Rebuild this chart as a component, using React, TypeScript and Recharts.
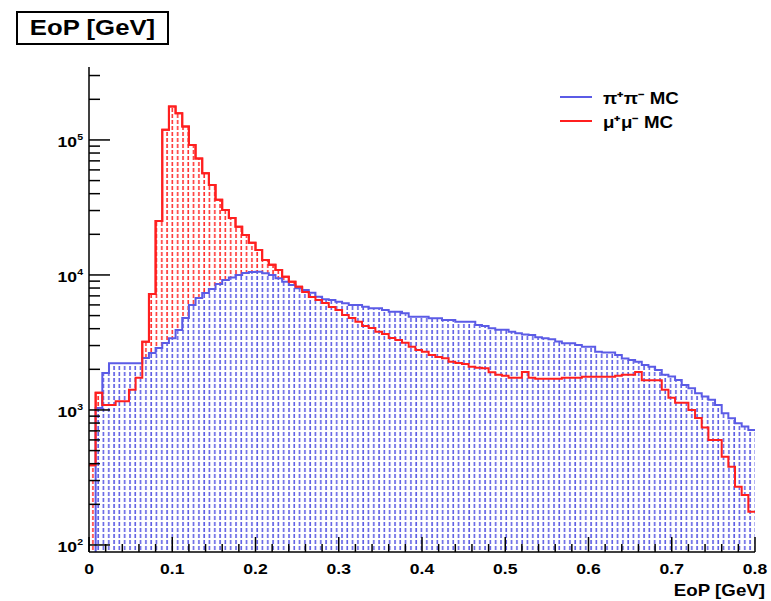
import React from 'react';
import { ComposedChart, Area, Line, XAxis, YAxis } from 'recharts';

// Histogram binning: 100 bins of 0.008 GeV over [0, 0.8]
const binWidth = 0.008;
const binCount = 100;

// pi+ pi- Monte Carlo, entries per bin
const piPiCounts = [
  40, 1035, 1880, 2220, 2220, 2220, 2220, 2220, 2430, 2640,
  2880, 3130, 3400, 3910, 4800, 6000, 6760, 7360, 7880, 8580,
  9180, 9580, 10000, 10350, 10530, 10550, 10280, 10000, 9460, 8920,
  8430, 7960, 7740, 7390, 6910, 6610, 6530, 6340, 6170, 6000,
  6000, 5820, 5660, 5660, 5500, 5350, 5350, 5200, 4910, 4910,
  4910, 4770, 4770, 4640, 4640, 4510, 4510, 4500, 4260, 4190,
  4030, 3920, 3920, 3800, 3700, 3620, 3590, 3460, 3400, 3340,
  3210, 3120, 3120, 3030, 2940, 2940, 2700, 2660, 2660, 2550,
  2410, 2340, 2280, 2150, 2090, 1980, 1820, 1770, 1670, 1530,
  1450, 1330, 1260, 1190, 1090, 946, 869, 797, 753, 711,
];

// mu+ mu- Monte Carlo, entries per bin
const muMuCounts = [
  390, 1340, 1090, 1090, 1160, 1160, 1410, 1730, 3200, 7230,
  25100, 119000, 177000, 158000, 126000, 91800, 73000, 56700, 46400, 36000,
  30300, 26400, 22800, 19800, 17300, 15300, 12900, 11900, 10900, 9710,
  8920, 8190, 7480, 6870, 6530, 6200, 5790, 5500, 5060, 4800,
  4510, 4190, 4040, 3800, 3650, 3410, 3300, 3140, 2940, 2780,
  2700, 2550, 2470, 2420, 2280, 2230, 2190, 2090, 2050, 2040,
  1900, 1820, 1790, 1730, 1730, 1910, 1730, 1700, 1700, 1700,
  1700, 1730, 1730, 1730, 1760, 1760, 1760, 1760, 1760, 1790,
  1820, 1820, 1910, 1660, 1660, 1660, 1410, 1230, 1130, 1130,
  1000, 873, 740, 600, 600, 451, 380, 270, 234, 176,
];

// Axis ticks and labels
const xTickLabels = ['0', '0.1', '0.2', '0.3', '0.4', '0.5', '0.6', '0.7', '0.8'];
const xMinorStep = 0.02;
const yDecadeExponents = [2, 3, 4, 5];
const yDomain = [88.7, 347000];

const seriesNames = ['π⁺π⁻ MC', 'μ⁺μ⁻ MC'];
const axisTitle = 'EoP [GeV]';

const FONT = '"Liberation Sans", Arial, Helvetica, sans-serif';
const SX = 1.17;
const BLUE = '#5b5be6';
const RED = '#ff1f1f';

// One point per bin edge; the last edge repeats the final bin so the step closes at 0.8
const data = Array.from({ length: binCount + 1 }, (_, i) => ({
  x: Number((i * binWidth).toFixed(3)),
  piPi: piPiCounts[Math.min(i, binCount - 1)],
  muMu: muMuCounts[Math.min(i, binCount - 1)],
}));

const xTicks = Array.from({ length: Math.round(0.8 / xMinorStep) + 1 }, (_, i) =>
  Number((i * xMinorStep).toFixed(2))
);

const yTicks: number[] = [];
for (const e of yDecadeExponents) {
  for (let m = 1; m <= 9; m++) {
    const v = m * Math.pow(10, e);
    if (v >= yDomain[0] && v <= yDomain[1]) yTicks.push(v);
  }
}

const XTick = (props: any) => {
  const { x, y, payload } = props;
  const v = payload.value as number;
  const idx = Math.round(v * 10);
  const major = Math.abs(v * 10 - idx) < 1e-6;
  return (
    <g>
      <line x1={x} y1={y} x2={x} y2={y - (major ? 15 : 8)} stroke="#000" strokeWidth={1.5} />
      {major && (
        <g transform={`translate(${x},${y + 22}) scale(${SX},1)`}>
          <text textAnchor="middle" fontSize={15} fontWeight="bold" fontFamily={FONT} fill="#000">
            {xTickLabels[idx]}
          </text>
        </g>
      )}
    </g>
  );
};

const YTick = (props: any) => {
  const { x, y, payload } = props;
  const v = payload.value as number;
  const exp = Math.log10(v);
  const major = Math.abs(exp - Math.round(exp)) < 1e-6;
  return (
    <g>
      <line x1={x} y1={y} x2={x + (major ? 21 : 11)} y2={y} stroke="#000" strokeWidth={1.5} />
      {major && (
        <g transform={`translate(${x - 6},${y + 7}) scale(${SX},1)`}>
          <text textAnchor="end" fontSize={15} fontWeight="bold" fontFamily={FONT} fill="#000">
            10
            <tspan fontSize={9} dy={-7}>
              {yDecadeExponents[yDecadeExponents.indexOf(Math.round(exp))]}
            </tspan>
          </text>
        </g>
      )}
    </g>
  );
};

export default function App() {
  return (
    <div style={{ position: 'absolute', left: 0, top: 0, width: 771, height: 601, background: '#fff' }}>
      <ComposedChart
        width={771}
        height={601}
        data={data}
        margin={{ top: 67, right: 16, bottom: 19, left: 29 }}
      >
        <defs>
          <pattern id="hatchRed" patternUnits="userSpaceOnUse" width={5.3} height={6}>
            <rect x={2} y={0} width={1.6} height={4} fill="#ff3030" />
          </pattern>
          <pattern id="hatchBlue" patternUnits="userSpaceOnUse" width={5.3} height={6}>
            <rect x={0} y={0} width={5.3} height={6} fill="#fff" />
            <rect x={2} y={0} width={1.6} height={4} fill="#5e5ee4" />
          </pattern>
        </defs>
        <XAxis
          dataKey="x"
          type="number"
          domain={[0, 0.8]}
          allowDataOverflow
          ticks={xTicks}
          interval={0}
          tick={<XTick />}
          tickSize={0}
          tickMargin={0}
          tickLine={false}
          height={30}
          axisLine={{ stroke: '#000', strokeWidth: 1.5 }}
        />
        <XAxis
          xAxisId="top"
          orientation="top"
          dataKey="x"
          type="number"
          domain={[0, 0.8]}
          tick={false}
          tickLine={false}
          height={0}
          axisLine={{ stroke: '#000', strokeWidth: 1.5 }}
        />
        <YAxis
          scale="log"
          type="number"
          domain={yDomain}
          allowDataOverflow
          ticks={yTicks}
          interval={0}
          tick={<YTick />}
          tickSize={0}
          tickMargin={0}
          tickLine={false}
          width={60}
          axisLine={{ stroke: '#000', strokeWidth: 1.5 }}
        />
        <YAxis
          yAxisId="right"
          orientation="right"
          scale="log"
          type="number"
          domain={yDomain}
          allowDataOverflow
          tick={false}
          tickLine={false}
          width={0}
          axisLine={{ stroke: '#000', strokeWidth: 1.5 }}
        />
        <Area
          type="stepAfter"
          dataKey="muMu"
          stroke={RED}
          strokeWidth={2}
          fill="url(#hatchRed)"
          fillOpacity={1}
          dot={false}
          activeDot={false}
          isAnimationActive={false}
        />
        <Area
          type="stepAfter"
          dataKey="piPi"
          stroke={BLUE}
          strokeWidth={2}
          fill="url(#hatchBlue)"
          fillOpacity={1}
          dot={false}
          activeDot={false}
          isAnimationActive={false}
        />
        <Line
          type="stepAfter"
          dataKey="muMu"
          stroke={RED}
          strokeWidth={2}
          dot={false}
          activeDot={false}
          isAnimationActive={false}
        />
      </ComposedChart>
      <svg
        width={771}
        height={601}
        style={{ position: 'absolute', left: 0, top: 0, pointerEvents: 'none' }}
      >
        <rect x={17} y={12} width={151} height={32} fill="#fff" stroke="#000" strokeWidth={2} />
        <g transform={`translate(92.5,35) scale(${SX},1)`}>
          <text textAnchor="middle" fontSize={22} fontWeight="bold" fontFamily={FONT} fill="#000">
            {axisTitle}
          </text>
        </g>
        <line x1={560} y1={97} x2={592} y2={97} stroke={BLUE} strokeWidth={2} />
        <line x1={560} y1={121} x2={592} y2={121} stroke={RED} strokeWidth={2} />
        <g transform={`translate(603,104) scale(${SX},1)`}>
          <text fontSize={16} fontWeight="bold" fontFamily={FONT} fill="#000">{seriesNames[0]}</text>
        </g>
        <g transform={`translate(603,128) scale(${SX},1)`}>
          <text fontSize={16} fontWeight="bold" fontFamily={FONT} fill="#000">{seriesNames[1]}</text>
        </g>
        <g transform={`translate(765,596) scale(${SX},1)`}>
          <text textAnchor="end" fontSize={16} fontWeight="bold" fontFamily={FONT} fill="#000">
            {axisTitle}
          </text>
        </g>
      </svg>
    </div>
  );
}
